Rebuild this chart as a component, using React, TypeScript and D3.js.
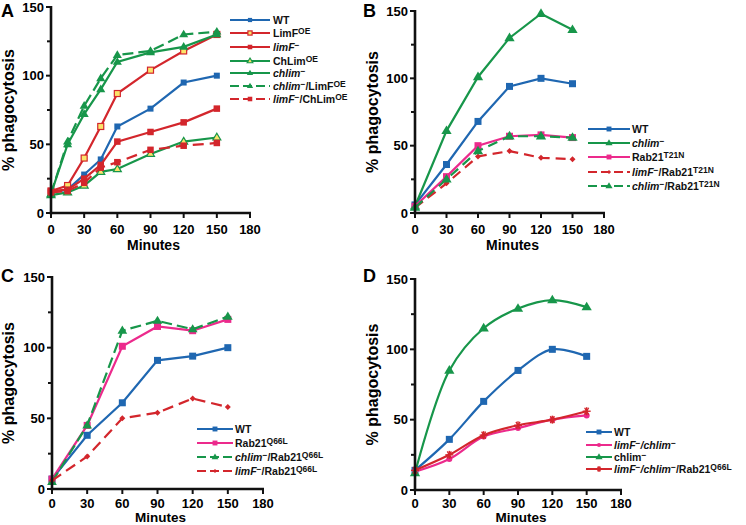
import React from "react"
import * as d3 from "d3"

// time points (minutes)
const minutesA = [0, 15, 30, 45, 60, 90, 120, 150]
const minutes = [0, 30, 60, 90, 120, 150]
const xTickValues = [0, 30, 60, 90, 120, 150, 180]
const yTickValues = [0, 50, 100, 150]
const yMinorTicks = [25, 75, 125]

// panel A
const aWT = [15, 17, 28, 39, 63, 76, 95, 100]
const aLimFOE = [16, 20, 40, 63, 87, 104, 118, 130]
const aLimFKO = [16, 17, 25, 35, 52, 59, 66, 76]
const aChLimOE = [13, 15, 20, 30, 32, 43, 52, 55]
const aChlimKO = [14, 50, 72, 90, 110, 117, 121, 130]
const aChlimLimFOE = [14, 52, 78, 98, 115, 118, 130, 132]
const aLimFChLimOE = [15, 16, 22, 33, 37, 46, 49, 51]

// panel B
const bWT = [6, 36, 68, 94, 100, 96]
const bChlimKO = [5, 61, 101, 130, 148, 136]
const bRabT21N = [5, 27, 50, 57, 58, 56]
const bLimFRabT21N = [4, 22, 42, 46, 41, 40]
const bChlimRabT21N = [4, 25, 46, 57, 57, 56]

// panel C
const cWT = [7, 38, 61, 91, 94, 100]
const cRabQ66L = [7, 45, 101, 115, 112, 120]
const cChlimRabQ66L = [5, 45, 112, 119, 113, 122]
const cLimFRabQ66L = [6, 23, 50, 54, 64, 58]

// panel D
const dWT = [14, 36, 63, 85, 100, 95]
const dLimFChlim = [13, 22, 38, 44, 50, 53]
const dChlimKO = [12, 85, 115, 129, 135, 130]
const dTriple = [14, 25, 39, 46, 50, 56]

const BLUE = "#1f67b1"
const RED = "#d3262c"
const GREEN = "#17964a"
const PINK = "#ec2a8c"
const YELLOW = "#fbe46a"
const FONT = "'Liberation Sans', Arial, Helvetica, sans-serif"

type Seg = { t: string; i?: boolean; s?: boolean }
type Mk = "square" | "triangle" | "diamond" | "circle" | "asterisk"
interface Series {
  xs: number[]
  ys: number[]
  color: string
  marker: Mk
  size: number
  fill?: string
  dash?: string
  smooth?: boolean
  label: Seg[]
}
interface PanelProps {
  letter: string
  letterX: number
  letterY: number
  x0: number
  x1: number
  yBottom: number
  yTop: number
  ylabelX: number
  tickGap: number
  titleGap: number
  titleSize: number
  series: Series[]
  legend: { x0: number; x1: number; tx: number; rows: number[] }
}

const minus: Seg = { t: "\u2212", s: true }

function Marker({ type, x, y, size, color, fill }: { type: Mk; x: number; y: number; size: number; color: string; fill?: string }) {
  const h = size / 2
  const f = fill || color
  if (type === "square")
    return <rect x={x - h} y={y - h} width={size} height={size} fill={f} stroke={color} strokeWidth={fill ? 1.2 : 0} />
  if (type === "triangle") {
    const r = size * 0.6
    return <path d={`M${x},${y - r}L${x + r * 0.95},${y + r * 0.6}L${x - r * 0.95},${y + r * 0.6}Z`} fill={f} stroke={color} strokeWidth={fill ? 1.2 : 0} />
  }
  if (type === "diamond")
    return <path d={`M${x},${y - h}L${x + h},${y}L${x},${y + h}L${x - h},${y}Z`} fill={f} />
  if (type === "circle") return <circle cx={x} cy={y} r={h} fill={f} />
  // asterisk
  const arms = [0, 60, 120].map((a) => (a * Math.PI) / 180)
  return (
    <g stroke={color} strokeWidth={1.4}>
      {arms.map((a, k) => (
        <line key={k} x1={x - h * Math.cos(a)} y1={y - h * Math.sin(a)} x2={x + h * Math.cos(a)} y2={y + h * Math.sin(a)} />
      ))}
      <line x1={x} y1={y - h} x2={x} y2={y + h} />
    </g>
  )
}

function Label({ segs, x, y }: { segs: Seg[]; x: number; y: number }) {
  let raised = false
  return (
    <text x={x} y={y} fontFamily={FONT} fontWeight="bold" fontSize={10.5} fill="#111">
      {segs.map((s, k) => {
        const dy = s.s && !raised ? -3.5 : !s.s && raised ? 3.5 : 0
        raised = !!s.s
        return (
          <tspan key={k} dy={dy} fontStyle={s.i ? "italic" : "normal"} fontSize={s.s ? 8.5 : 10.5}>
            {s.t}
          </tspan>
        )
      })}
    </text>
  )
}

function Panel(p: PanelProps) {
  const x = d3.scaleLinear().domain([0, 180]).range([p.x0, p.x1])
  const y = d3.scaleLinear().domain([0, 150]).range([p.yBottom, p.yTop])
  const midY = (p.yBottom + p.yTop) / 2
  return (
    <g>
      <text x={p.letterX} y={p.letterY} fontFamily={FONT} fontWeight="bold" fontSize={18}>{p.letter}</text>
      <text transform={`translate(${p.ylabelX},${midY}) rotate(-90)`} textAnchor="middle" fontFamily={FONT} fontWeight="bold" fontSize={16}>
        % phagocytosis
      </text>
      {p.series.map((s, k) => {
        const line = d3
          .line<number>()
          .x((_, i) => x(s.xs[i]))
          .y((d) => y(d))
          .curve(s.smooth ? d3.curveCatmullRom : d3.curveLinear)
        return (
          <g key={k}>
            <path d={line(s.ys) || ""} fill="none" stroke={s.color} strokeWidth={2.2} strokeDasharray={s.dash} />
            {s.ys.map((v, i) => (
              <Marker key={i} type={s.marker} x={x(s.xs[i])} y={y(v)} size={s.size} color={s.color} fill={s.fill} />
            ))}
          </g>
        )
      })}
      {/* axes */}
      <line x1={p.x0} x2={p.x0} y1={p.yTop - 1} y2={p.yBottom + 1.2} stroke="#111" strokeWidth={2.6} />
      <line x1={p.x0 - 1.2} x2={p.x1 + 1} y1={p.yBottom} y2={p.yBottom} stroke="#111" strokeWidth={2.6} />
      {yTickValues.map((t) => (
        <g key={t}>
          <line x1={p.x0 - 5} x2={p.x0} y1={y(t)} y2={y(t)} stroke="#111" strokeWidth={2} />
          <text x={p.x0 - 7} y={y(t)} dy="0.36em" textAnchor="end" fontFamily={FONT} fontWeight="bold" fontSize={13}>{t}</text>
        </g>
      ))}
      {yMinorTicks.map((t) => (
        <line key={t} x1={p.x0 - 4} x2={p.x0} y1={y(t)} y2={y(t)} stroke="#111" strokeWidth={2} />
      ))}
      {xTickValues.map((t) => (
        <g key={t}>
          <line x1={x(t)} x2={x(t)} y1={p.yBottom} y2={p.yBottom + 5} stroke="#111" strokeWidth={2} />
          <text x={x(t)} y={p.yBottom + p.tickGap} textAnchor="middle" fontFamily={FONT} fontWeight="bold" fontSize={13}>{t}</text>
        </g>
      ))}
      <text x={(p.x0 + p.x1) / 2 + 3} y={p.yBottom + p.titleGap} textAnchor="middle" fontFamily={FONT} fontWeight="bold" fontSize={p.titleSize}>Minutes</text>
      {/* legend */}
      {p.series.map((s, k) => {
        const ly = p.legend.rows[k]
        const mx = (p.legend.x0 + p.legend.x1) / 2
        return (
          <g key={k}>
            <line x1={p.legend.x0} x2={p.legend.x1} y1={ly} y2={ly} stroke={s.color} strokeWidth={2} strokeDasharray={s.dash ? "9,4" : undefined} />
            <Marker type={s.marker} x={mx} y={ly} size={s.size * 0.7} color={s.color} fill={s.fill} />
            <Label segs={s.label} x={p.legend.tx} y={ly + 4} />
          </g>
        )
      })}
    </g>
  )
}

const seriesA: Series[] = [
  { xs: minutesA, ys: aWT, color: BLUE, marker: "square", size: 6, label: [{ t: "WT" }] },
  { xs: minutesA, ys: aLimFOE, color: RED, marker: "square", size: 6, fill: YELLOW, label: [{ t: "LimF" }, { t: "OE", s: true }] },
  { xs: minutesA, ys: aLimFKO, color: RED, marker: "square", size: 6.5, label: [{ t: "limF", i: true }, minus] },
  { xs: minutesA, ys: aChLimOE, color: GREEN, marker: "triangle", size: 7, fill: YELLOW, label: [{ t: "ChLim" }, { t: "OE", s: true }] },
  { xs: minutesA, ys: aChlimKO, color: GREEN, marker: "triangle", size: 8, label: [{ t: "chlim", i: true }, minus] },
  { xs: minutesA, ys: aChlimLimFOE, color: GREEN, marker: "triangle", size: 8, dash: "11,5", label: [{ t: "chlim", i: true }, minus, { t: "/LimF" }, { t: "OE", s: true }] },
  { xs: minutesA, ys: aLimFChLimOE, color: RED, marker: "square", size: 6.5, dash: "11,6", label: [{ t: "limF", i: true }, minus, { t: "/ChLim" }, { t: "OE", s: true }] },
]

const seriesB: Series[] = [
  { xs: minutes, ys: bWT, color: BLUE, marker: "square", size: 7, label: [{ t: "WT" }] },
  { xs: minutes, ys: bChlimKO, color: GREEN, marker: "triangle", size: 9, label: [{ t: "chlim", i: true }, minus] },
  { xs: minutes, ys: bRabT21N, color: PINK, marker: "square", size: 7, label: [{ t: "Rab21" }, { t: "T21N", s: true }] },
  { xs: minutes, ys: bLimFRabT21N, color: RED, marker: "diamond", size: 6, dash: "10,6", label: [{ t: "limF", i: true }, minus, { t: "/Rab21" }, { t: "T21N", s: true }] },
  { xs: minutes, ys: bChlimRabT21N, color: GREEN, marker: "triangle", size: 9, dash: "10,6", label: [{ t: "chlim", i: true }, minus, { t: "/Rab21" }, { t: "T21N", s: true }] },
]

const seriesC: Series[] = [
  { xs: minutes, ys: cWT, color: BLUE, marker: "square", size: 7, label: [{ t: "WT" }] },
  { xs: minutes, ys: cRabQ66L, color: PINK, marker: "square", size: 7, label: [{ t: "Rab21" }, { t: "Q66L", s: true }] },
  { xs: minutes, ys: cChlimRabQ66L, color: GREEN, marker: "triangle", size: 8.5, dash: "11,5", label: [{ t: "chlim", i: true }, minus, { t: "/Rab21" }, { t: "Q66L", s: true }] },
  { xs: minutes, ys: cLimFRabQ66L, color: RED, marker: "diamond", size: 6, dash: "11,6", label: [{ t: "limF", i: true }, minus, { t: "/Rab21" }, { t: "Q66L", s: true }] },
]

const seriesD: Series[] = [
  { xs: minutes, ys: dWT, color: BLUE, marker: "square", size: 7, smooth: true, label: [{ t: "WT" }] },
  { xs: minutes, ys: dLimFChlim, color: PINK, marker: "circle", size: 6, smooth: true, label: [{ t: "limF", i: true }, minus, { t: "/" , i: true }, { t: "chlim", i: true }, minus] },
  { xs: minutes, ys: dChlimKO, color: GREEN, marker: "triangle", size: 9, smooth: true, label: [{ t: "chlim" }, minus] },
  { xs: minutes, ys: dTriple, color: RED, marker: "asterisk", size: 8, smooth: true, label: [{ t: "limF", i: true }, minus, { t: "/", i: true }, { t: "chlim", i: true }, minus, { t: "/Rab21" }, { t: "Q66L", s: true }] },
]

export default function App() {
  return (
    <svg width={746} height={525} style={{ position: "absolute", left: 0, top: 0, background: "#fff" }}>
      <Panel letter="A" letterX={1} letterY={17} x0={51} x1={250} yBottom={213} yTop={7} ylabelX={14} tickGap={21} titleGap={37} titleSize={14}
        series={seriesA} legend={{ x0: 230, x1: 270, tx: 273, rows: [20, 33, 47, 61, 73, 86, 99] }} />
      <Panel letter="B" letterX={363} letterY={17} x0={415} x1={604} yBottom={213} yTop={11} ylabelX={378} tickGap={21} titleGap={37} titleSize={14}
        series={seriesB} legend={{ x0: 588, x1: 630, tx: 632, rows: [129, 143, 157, 172, 186] }} />
      <Panel letter="C" letterX={1} letterY={282} x0={52} x1={263} yBottom={489} yTop={277} ylabelX={14} tickGap={19} titleGap={33} titleSize={13.5}
        series={seriesC} legend={{ x0: 197, x1: 233, tx: 235, rows: [429, 443, 457, 471] }} />
      <Panel letter="D" letterX={363} letterY={282} x0={415} x1={621} yBottom={490} yTop={279} ylabelX={378} tickGap={18} titleGap={32} titleSize={13.5}
        series={seriesD} legend={{ x0: 586, x1: 612, tx: 614, rows: [432, 445, 457, 469] }} />
    </svg>
  )
}
